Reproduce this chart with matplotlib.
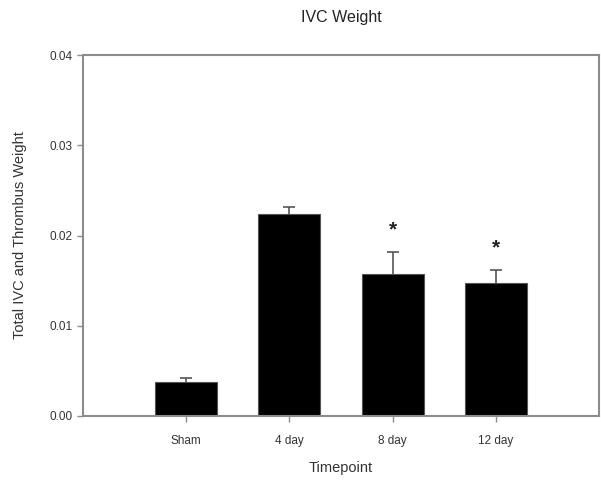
import numpy as np
import matplotlib
matplotlib.use('Agg')
import matplotlib.pyplot as plt

plt.rcParams['font.family'] = ['Liberation Sans', 'DejaVu Sans']

# data
timepoints = ['Sham', '4 day', '8 day', '12 day']
weights = [0.00377, 0.02238, 0.01573, 0.01474]
sem = [0.00044, 0.00078, 0.00244, 0.00144]
significant = [False, False, True, True]

fig = plt.figure(figsize=(6.01, 4.8), dpi=100)
ax = fig.add_axes([83 / 601, 1 - 416 / 480, 516 / 601, 361 / 480])

x = np.arange(1, len(timepoints) + 1)
ax.bar(x, weights, width=0.6, color='black', edgecolor='#555555',
       linewidth=0.8, zorder=2)
eb = ax.errorbar(x, weights, yerr=[np.zeros(len(sem)), sem], fmt='none',
                 ecolor='#555555', elinewidth=1.2, capsize=4, capthick=1.2,
                 zorder=1)
# only the upper cap is shown
eb[1][0].set_visible(False)

for xi, w, e, sig in zip(x, weights, sem, significant):
    if sig:
        ax.text(xi, w + e + 0.0014, '*', ha='center', va='bottom',
                fontsize=15, fontweight='bold', color='#222222')

ax.set_xlim(0, 5)
ax.set_ylim(0, 0.04)
ax.set_xticks(x)
ax.set_xticklabels(timepoints)
ax.set_yticks([0, 0.01, 0.02, 0.03, 0.04])
ax.set_yticklabels(['0.00', '0.01', '0.02', '0.03', '0.04'])

for sp in ax.spines.values():
    sp.set_color('#8c8c8c')
    sp.set_linewidth(1.5)
ax.tick_params(direction='out', length=4, width=1, color='#8c8c8c',
               labelsize=8.5, labelcolor='#333333')
ax.tick_params(axis='x', pad=10)

ax.set_xlabel('Timepoint', fontsize=10.5, color='#333333', labelpad=10)
ax.set_ylabel('Total IVC and Thrombus Weight', fontsize=10.5,
              color='#333333', labelpad=16)
ax.set_title('IVC Weight', fontsize=11.5, color='#222222', pad=24)

fig.savefig('out.png', dpi=100)
